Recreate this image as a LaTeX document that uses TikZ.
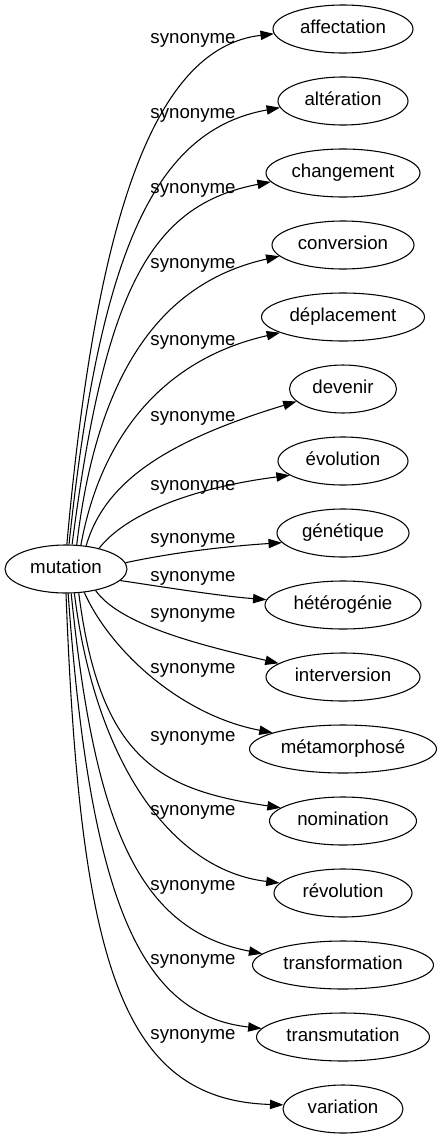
\documentclass[tikz,border=0pt]{standalone}
\usepackage{fontspec}
\setmainfont{Liberation Sans}
\usetikzlibrary{shapes.geometric,arrows.meta}
\tikzset{
  tgt/.style={ellipse, draw, line width=0.8pt, inner sep=0pt, minimum height=36pt, text height=10pt, text depth=3pt},
  lbl/.style={anchor=base, inner sep=0pt},
  edge/.style={draw, line width=0.8pt, -{Triangle[length=10pt,width=7pt]}}
}
\begin{document}
\begin{tikzpicture}[x=0.75pt,y=-0.75pt,font=\fontsize{14pt}{16pt}\selectfont]
\path[use as bounding box] (0,0) rectangle (441,1139);
\node[tgt, minimum width=91.5pt] (m) at (66,569) {mutation};
\node[tgt, minimum width=105pt] (t0) at (343,29) {affectation};
\node[tgt, minimum width=97.5pt] (t1) at (343,101) {altération};
\node[tgt, minimum width=115.5pt] (t2) at (343,173) {changement};
\node[tgt, minimum width=106.5pt] (t3) at (343,245) {conversion};
\node[tgt, minimum width=122.25pt] (t4) at (343,317) {déplacement};
\node[tgt, minimum width=80.25pt] (t5) at (343,389) {devenir};
\node[tgt, minimum width=97.5pt] (t6) at (343,461) {évolution};
\node[tgt, minimum width=99pt] (t7) at (343,533) {génétique};
\node[tgt, minimum width=117pt] (t8) at (343,605) {hétérogénie};
\node[tgt, minimum width=115.5pt] (t9) at (343,677) {interversion};
\node[tgt, minimum width=140.25pt] (t10) at (343,749) {métamorphosé};
\node[tgt, minimum width=110.25pt] (t11) at (343,821) {nomination};
\node[tgt, minimum width=103.5pt] (t12) at (343,893) {révolution};
\node[tgt, minimum width=135.75pt] (t13) at (343,965) {transformation};
\node[tgt, minimum width=129.75pt] (t14) at (343,1037) {transmutation};
\node[tgt, minimum width=90pt] (t15) at (343,1109) {variation};

\node[lbl] (l0) at (193,43) {synonyme};
\node[lbl] (l1) at (193,118) {synonyme};
\node[lbl] (l2) at (193,193) {synonyme};
\node[lbl] (l3) at (193,268) {synonyme};
\node[lbl] (l4) at (193,345) {synonyme};
\node[lbl] (l5) at (193,421) {synonyme};
\node[lbl] (l6) at (193,490) {synonyme};
\node[lbl] (l7) at (193,543) {synonyme};
\node[lbl] (l8) at (193,581) {synonyme};
\node[lbl] (l9) at (193,618) {synonyme};
\node[lbl] (l10) at (193,673) {synonyme};
\node[lbl] (l11) at (193,741) {synonyme};
\node[lbl] (l12) at (193,815) {synonyme};
\node[lbl] (l13) at (193,890) {synonyme};
\node[lbl] (l14) at (193,964) {synonyme};
\node[lbl] (l15) at (193,1039) {synonyme};

\path[edge] (m.88) .. controls (95,230) and (150,48) .. (t0.184);
\path[edge] (m.83) .. controls (100,250) and (155,130) .. (t1.186);
\path[edge] (m.76) .. controls (105,290) and (150,205) .. (t2.187.5);
\path[edge] (m.66.5) .. controls (95,390) and (150,285) .. (t3.190);
\path[edge] (m.58.7) .. controls (100,440) and (160,360) .. (t4.194);
\path[edge] (m.49) .. controls (105,480) and (170,440) .. (t5.195);
\path[edge] (m.32) .. controls (125,515) and (190,488) .. (t6.195);
\path[edge] (m.6.9) .. controls (175,552) and (230,546) .. (t7.189);
\path[edge] (m.-12.5) .. controls (170,588) and (220,596) .. (t8.176);
\path[edge] (m.-36) .. controls (120,625) and (200,645) .. (t9.168);
\path[edge] (m.-52) .. controls (110,650) and (180,715) .. (t10.167);
\path[edge] (m.-62) .. controls (100,760) and (160,790) .. (t11.168);
\path[edge] (m.-71.6) .. controls (95,760) and (170,870) .. (t12.171);
\path[edge] (m.-78) .. controls (95,830) and (140,930) .. (t13.172);
\path[edge] (m.-85) .. controls (90,900) and (140,1015) .. (t14.174);
\path[edge] (m.-90) .. controls (80,960) and (120,1100) .. (t15.176);
\end{tikzpicture}
\end{document}
